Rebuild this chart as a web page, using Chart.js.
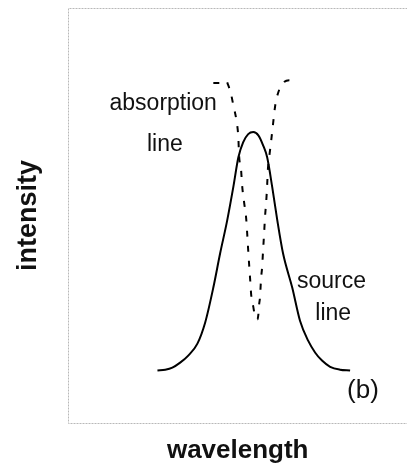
<!DOCTYPE html>
<html>
<head>
<meta charset="utf-8">
<script src="https://cdn.jsdelivr.net/npm/chart.js@4/dist/chart.umd.min.js"></script>
<style>
  html, body { margin: 0; padding: 0; background: #ffffff; }
  #wrap { width: 407px; height: 468px; }
</style>
</head>
<body>
<div id="wrap"><canvas id="c" width="407" height="468"></canvas></div>
<script>
// Source emission line (solid), arbitrary units
const sourceX = [26.3, 28.6, 30.7, 33.0, 35.4, 38.1, 40.4, 42.8, 44.8, 46.9, 48.7, 50.2, 51.6, 53.1, 54.6, 56.1, 57.5, 58.7, 60.2, 61.7, 63.4, 66.1, 68.4, 70.8, 72.9, 74.9, 77.3, 80.2, 83.2];
const sourceY = [12.6, 12.8, 13.3, 14.5, 16.2, 19.1, 24.2, 32.6, 40.8, 48.8, 56.8, 64.0, 67.6, 69.6, 70.1, 69.3, 66.9, 64.0, 56.8, 48.8, 40.8, 32.6, 24.6, 19.8, 16.9, 15.0, 13.5, 12.8, 12.6];

// Absorption line (dashed), arbitrary units
const absX = [42.8, 44.8, 46.6, 47.2, 47.5, 48.1, 48.7, 49.6, 50.2, 50.4, 51.0, 51.3, 51.9, 52.5, 52.8, 53.1, 53.4, 53.7, 54.0, 54.6, 54.9, 55.5, 55.8, 56.1, 56.3, 56.6, 56.9, 57.2, 57.5, 57.8, 58.1, 58.4, 58.7, 58.9, 59.3, 59.9, 60.5, 61.1, 62.0, 63.4, 65.2, 67.0];
const absY = [81.9, 81.9, 82.4, 81.4, 80.7, 79.0, 76.6, 73.0, 68.6, 64.5, 60.9, 57.3, 53.1, 49.3, 45.7, 41.6, 37.9, 34.3, 30.7, 28.0, 26.6, 25.4, 24.9, 26.1, 28.3, 30.4, 34.8, 37.4, 41.6, 45.7, 50.0, 53.1, 57.3, 60.9, 64.0, 68.1, 72.5, 76.6, 79.7, 81.9, 82.6, 82.6];

const xRange = [0, 100];
const yRange = [0, 100];

const toPoints = (xs, ys) => xs.map((x, i) => ({ x: x, y: ys[i] }));

const FONT = "'Liberation Sans', Arial, sans-serif";

const framePlugin = {
  id: 'frame',
  beforeDatasetsDraw(chart) {
    const { ctx, chartArea: a } = chart;
    ctx.save();
    ctx.strokeStyle = '#b8b8b8';
    ctx.lineWidth = 1;
    ctx.setLineDash([2, 1]);
    ctx.beginPath();
    ctx.moveTo(a.right + 0.5, Math.round(a.top) + 0.5);
    ctx.lineTo(Math.round(a.left) + 0.5, Math.round(a.top) + 0.5);
    ctx.lineTo(Math.round(a.left) + 0.5, Math.round(a.bottom) + 0.5);
    ctx.lineTo(a.right + 0.5, Math.round(a.bottom) + 0.5);
    ctx.stroke();
    ctx.restore();
  }
};

const labelPlugin = {
  id: 'labels',
  afterDatasetsDraw(chart) {
    const { ctx } = chart;
    const xs = chart.scales.x, ys = chart.scales.y;
    const put = (text, xv, yv, size) => {
      ctx.font = size + 'px ' + FONT;
      ctx.fillText(text, xs.getPixelForValue(xv), ys.getPixelForValue(yv));
    };
    ctx.save();
    ctx.fillStyle = '#111';
    ctx.textAlign = 'center';
    ctx.textBaseline = 'alphabetic';
    put('absorption', 28.0, 75.5, 23);
    put('line', 28.5, 65.5, 23);
    put('source', 77.7, 32.5, 23);
    put('line', 78.2, 24.7, 23);
    put('(b)', 87.0, 6.0, 26);
    ctx.restore();
  }
};

new Chart(document.getElementById('c'), {
  type: 'scatter',
  data: {
    datasets: [
      {
        label: 'source line',
        data: toPoints(sourceX, sourceY),
        showLine: true,
        borderColor: '#000',
        borderWidth: 2,
        pointRadius: 0,
        cubicInterpolationMode: 'monotone',
        fill: false
      },
      {
        label: 'absorption line',
        data: toPoints(absX, absY),
        showLine: true,
        borderColor: '#000',
        borderWidth: 2,
        borderDash: [6, 9],
        pointRadius: 0,
        cubicInterpolationMode: 'monotone',
        fill: false
      }
    ]
  },
  options: {
    responsive: false,
    animation: false,
    devicePixelRatio: 1,
    layout: { padding: { left: 12, top: 8, right: 0, bottom: 2 } },
    plugins: {
      legend: { display: false },
      tooltip: { enabled: false }
    },
    scales: {
      x: {
        type: 'linear',
        min: xRange[0], max: xRange[1],
        ticks: { display: false },
        grid: { display: false, drawTicks: false },
        border: { display: false },
        title: {
          display: true,
          text: 'wavelength',
          color: '#111',
          font: { family: FONT, size: 26, weight: 'bold' },
          padding: { top: 12, bottom: 0 }
        }
      },
      y: {
        type: 'linear',
        min: yRange[0], max: yRange[1],
        ticks: { display: false },
        grid: { display: false, drawTicks: false },
        border: { display: false },
        title: {
          display: true,
          text: 'intensity',
          color: '#111',
          font: { family: FONT, size: 27, weight: 'bold' },
          padding: { top: 0, bottom: 24 }
        }
      }
    }
  },
  plugins: [framePlugin, labelPlugin]
});
</script>
</body>
</html>
